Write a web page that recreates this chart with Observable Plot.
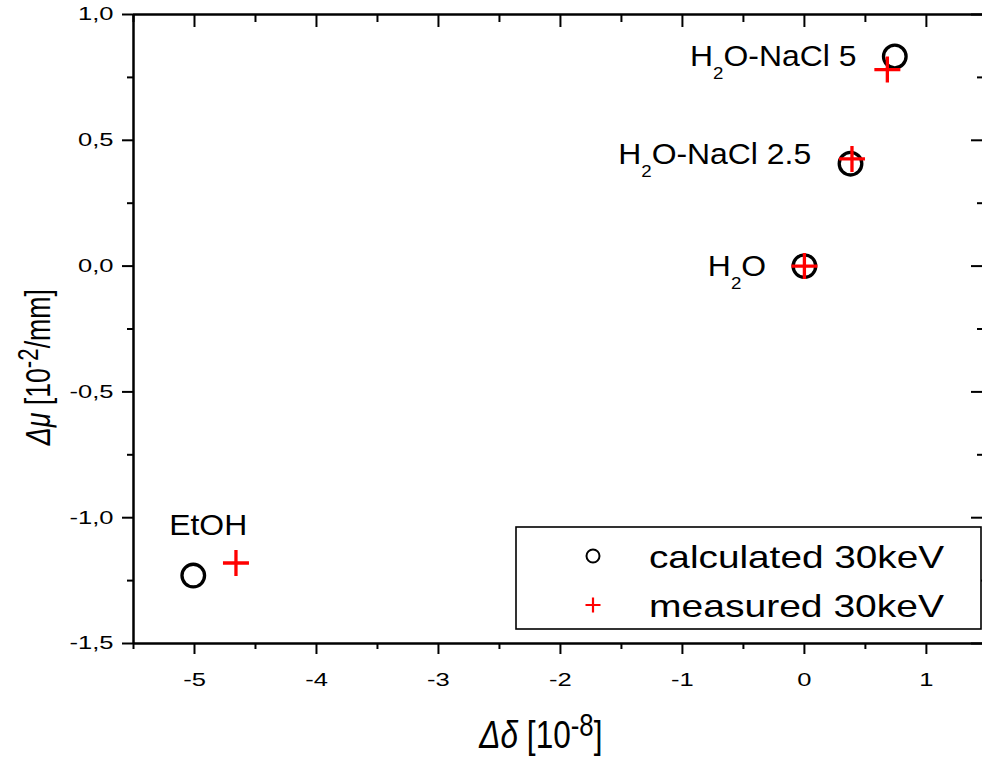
<!DOCTYPE html>
<html><head><meta charset="utf-8">
<script src="https://cdn.jsdelivr.net/npm/d3@7"></script>
<script src="https://cdn.jsdelivr.net/npm/@observablehq/plot@0.6"></script>
<style>
html,body{margin:0;padding:0;background:#fff;overflow:hidden}
svg{display:block}
</style></head><body>
<div id="chart"></div>
<script>
// ---- data ----
const samples    = ["H2O", "H2O-NaCl 2.5", "H2O-NaCl 5", "EtOH"];
const calcDelta  = [0, 0.378, 0.741, -5.01];
const calcMu     = [0, 0.407, 0.833, -1.23];
const measDelta  = [0, 0.39, 0.68, -4.66];
const measMu     = [0, 0.426, 0.781, -1.18];
// label anchor (text end point, middle line) in data units
const labelDelta = [-0.314, 0.055, 0.426, -4.568];
const labelMu    = [-0.004, 0.4436, 0.834, -1.030];
const seriesNames = ["calculated 30keV", "measured 30keV"];
const xMajorTicks = [-5, -4, -3, -2, -1, 0, 1];
const xMinorTicks = [-5.5, -4.5, -3.5, -2.5, -1.5, -0.5, 0.5];
const yMajorTicks = [-1.5, -1.0, -0.5, 0.0, 0.5, 1.0];
const yMinorTicks = [-1.25, -0.75, -0.25, 0.25, 0.75];
const xDomain = [-5.5, 1.46];
const yDomain = [-1.5, 1.0];

const calc = samples.map((s, i) => ({name: s, x: calcDelta[i], y: calcMu[i]}));
const meas = samples.map((s, i) => ({name: s, x: measDelta[i], y: measMu[i]}));
const labels = samples.map((s, i) => ({name: s, x: labelDelta[i], y: labelMu[i]}));

const crossSymbol = {
  draw(ctx, size) {
    const r = Math.sqrt(size / Math.PI);
    ctx.moveTo(-r, 0); ctx.lineTo(r, 0);
    ctx.moveTo(0, -r); ctx.lineTo(0, r);
  }
};

const FONT = "'Liberation Sans', Arial, sans-serif";
const fmtY = d => d.toFixed(1).replace(".", ",");

const plot = Plot.plot({
  width: 982, height: 760,
  marginLeft: 133, marginRight: 0, marginTop: 14, marginBottom: 117,
  style: {fontFamily: FONT, background: "#fff", color: "#000"},
  x: {domain: xDomain, label: null},
  y: {domain: yDomain, label: null},
  marks: [
    // minor ticks
    Plot.axisX(xMinorTicks, {anchor: "bottom", tickSize: 6, tickFormat: () => "", strokeWidth: 2}),
    Plot.axisX(xMinorTicks, {anchor: "top", tickSize: -7, tickFormat: () => "", strokeWidth: 2}),
    Plot.axisY(yMinorTicks, {anchor: "left", tickSize: 6, tickFormat: () => "", strokeWidth: 2}),
    Plot.axisY(yMinorTicks, {anchor: "right", tickSize: -6, tickFormat: () => "", strokeWidth: 2}),
    // major ticks
    Plot.axisX(xMajorTicks, {anchor: "bottom", tickSize: 11, tickPadding: 18, tickFormat: d => String(d),
      fontSize: 18.5, strokeWidth: 2}),
    Plot.axisX(xMajorTicks, {anchor: "top", tickSize: -12, tickFormat: () => "", strokeWidth: 2}),
    Plot.axisY(yMajorTicks, {anchor: "left", tickSize: 11, tickPadding: 9, tickFormat: fmtY,
      fontSize: 18.5, strokeWidth: 2}),
    Plot.axisY(yMajorTicks, {anchor: "right", tickSize: -12, tickFormat: () => "", strokeWidth: 2}),
    // frame lines
    Plot.ruleX([xDomain[0]], {stroke: "#000", strokeWidth: 2.5}),
    Plot.ruleY(yDomain, {stroke: "#000", strokeWidth: 2.5}),
    // data
    Plot.dot(calc, {x: "x", y: "y", r: 11.3, symbol: "circle", stroke: "#000", strokeWidth: 3.3, fill: "none"}),
    Plot.dot(meas, {x: "x", y: "y", r: 13, symbol: crossSymbol, stroke: "#ff0000", strokeWidth: 3.3, fill: "none"}),
    Plot.text(labels, {x: "x", y: "y", text: "name", textAnchor: "end", lineAnchor: "middle",
      fontSize: 29, fill: "#000"})
  ]
});

document.getElementById("chart").appendChild(plot);
const svg = d3.select(plot);

// split Plot's own text elements: tick labels vs sample labels
const sampleNodes = [];
const tickNodes = [];
plot.querySelectorAll("text").forEach(el => {
  if (samples.includes(el.textContent)) sampleNodes.push(el);
  else if (el.textContent) tickNodes.push(el);
});

// subscripts in sample labels
sampleNodes.forEach(node => {
  const m = /^H2O(.*)$/.exec(node.textContent);
  if (!m) return;
  const el = d3.select(node);
  el.text(null);
  el.append("tspan").text("H");
  el.append("tspan").attr("dy", 13).attr("font-size", 17).text("2");
  el.append("tspan").attr("dy", -13).text("O" + m[1]);
});

// axis titles
const xt = svg.append("text").attr("x", 541).attr("y", 748).attr("text-anchor", "middle")
  .attr("font-size", 38).attr("font-family", FONT).attr("fill", "#000");
xt.append("tspan").attr("font-style", "italic").text("Δδ");
xt.append("tspan").text(" [10");
xt.append("tspan").attr("dy", -12).attr("font-size", 31).text("-8");
xt.append("tspan").attr("dy", 12).text("]");

const yt = svg.append("text").attr("transform", "translate(50,367) rotate(-90)").attr("text-anchor", "middle")
  .attr("font-size", 36).attr("font-family", FONT).attr("fill", "#000");
yt.append("tspan").attr("font-style", "italic").text("Δμ");
yt.append("tspan").text(" [10");
yt.append("tspan").attr("dy", -12).attr("font-size", 30).text("-2");
yt.append("tspan").attr("dy", 12).text("/mm]");

// legend
const lg = svg.append("g").attr("font-family", FONT).attr("text-anchor", "start");
lg.append("rect").attr("x", 516).attr("y", 527).attr("width", 465).attr("height", 102)
  .attr("fill", "#fff").attr("stroke", "#000").attr("stroke-width", 1.6);
lg.append("circle").attr("cx", 593).attr("cy", 556).attr("r", 6.5)
  .attr("fill", "none").attr("stroke", "#000").attr("stroke-width", 2);
lg.append("path").attr("d", "M585.5,605H600.5M593,597.5V612.5")
  .attr("stroke", "#ff0000").attr("stroke-width", 2.2);
const legTexts = seriesNames.map((n, i) =>
  lg.append("text").attr("x", 649).attr("y", 568 + 49 * i).attr("text-anchor", "start")
    .attr("font-size", 32).attr("fill", "#000").text(n).node());

// horizontal stretch of text to mimic the reference typeface proportions
function stretch(el, s) {
  const b = el.getBBox();
  if (!b.width) return;
  const anchor = getComputedStyle(el).textAnchor;
  const ax = anchor === "end" ? b.x + b.width : anchor === "middle" ? b.x + b.width / 2 : b.x;
  const t = el.getAttribute("transform") || "";
  el.setAttribute("transform", `${t} translate(${ax},0) scale(${s},1) translate(${-ax},0)`);
}
function stretchTo(el, w) { const b = el.getBBox(); if (b.width) stretch(el, w / b.width); }

tickNodes.forEach(el => {
  el.setAttribute("font-size", 18.5);
  el.style.setProperty("font-size", "18.5px", "important");
  stretch(el, 1.38);
});
sampleNodes.forEach(el => stretch(el, 1.1));
legTexts.forEach(el => stretchTo(el, 296));
stretchTo(xt.node(), 124);
stretchTo(yt.node(), 157);
</script>
</body></html>
